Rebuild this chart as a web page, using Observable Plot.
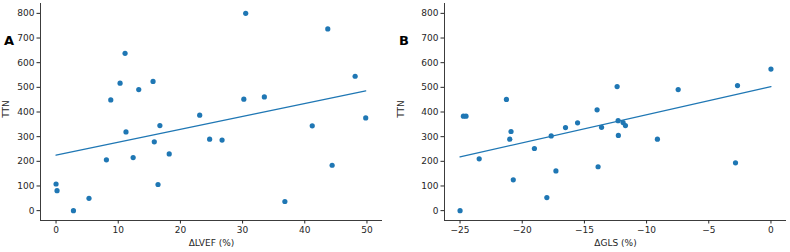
<!DOCTYPE html>
<html>
<head>
<meta charset="utf-8">
<script src="https://cdn.jsdelivr.net/npm/d3@7"></script>
<script src="https://cdn.jsdelivr.net/npm/@observablehq/plot@0.6"></script>
<style>
  html, body { margin: 0; padding: 0; background: #fff; }
  #chart { display: flex; width: 790px; height: 252px; }
  #chart svg { display: block; }
</style>
</head>
<body>
<div id="chart"></div>
<script>
// Panel A: change in LVEF (%) vs TTN
const lvefDelta = [30.5, 43.7, 11.1, 10.3, 8.8, 13.3, 15.6, 48.1, 30.2, 33.5, 23.1, 16.7, 41.2, 49.8,
                   11.25, 15.8, 24.7, 26.7, 8.1, 12.4, 18.2, 0, 0.16, 16.4, 44.4, 5.3, 2.8, 36.8];
const lvefTtn   = [800, 737, 638, 517, 449, 491, 524, 545, 452, 461, 387, 345, 344, 376,
                   319, 279, 290, 286, 206, 215, 230, 108, 81, 106, 184, 50, 0, 37];

// Panel B: change in GLS (%) vs TTN
const glsDelta = [-24.73, -24.52, -21.27, -12.37, -13.98, -15.55, -7.46, -2.69, 0, -12.29, -11.89, -11.70,
                  -20.9, -21.0, -16.52, -13.62, -12.27, -17.67, -23.46, -19.02, -17.29, -13.9, -20.72,
                  -9.13, -18.02, -25, -2.85];
const glsTtn   = [383, 383, 451, 503, 409, 356, 491, 507, 574, 365, 357, 345,
                  321, 290, 337, 338, 305, 303, 210, 252, 161, 178, 125,
                  290, 53, 0, 194];

// Fitted trend lines (endpoints in data units)
const fitLvefX = [0, 49.8];
const fitLvefY = [225, 486];
const fitGlsX = [-25, 0];
const fitGlsY = [218, 503];

// Tick values
const ttnTicks = [0, 100, 200, 300, 400, 500, 600, 700, 800];
const lvefTicks = [0, 10, 20, 30, 40, 50];
const glsTicks = [-25, -20, -15, -10, -5, 0];

const blue = "#1f77b4";
const ink = "#262626";

function panel({letter, xs, ys, fitX, fitY, xDomain, xTicks, xLabel, marginLeft, marginRight, width}) {
  const pts = xs.map((x, i) => ({x, y: ys[i]}));
  const fit = fitX.map((x, i) => ({x, y: fitY[i]}));
  return Plot.plot({
    width, height: 252,
    marginLeft, marginRight, marginTop: 3, marginBottom: 32,
    style: {fontFamily: "DejaVu Sans, sans-serif", fontSize: "9px", color: ink, background: "#fff", overflow: "visible"},
    x: {domain: xDomain},
    y: {domain: [-40, 840]},
    marks: [
      Plot.axisY({ticks: ttnTicks, tickSize: 3.5, tickPadding: 2.5, label: null, tickFormat: d => d}),
      Plot.axisX({ticks: xTicks, tickSize: 3.5, tickPadding: 2.5, label: null,
                  tickFormat: d => (d < 0 ? "\u2212" + Math.abs(d) : String(d))}),
      Plot.ruleX([xDomain[0]], {stroke: ink, strokeWidth: 0.9}),
      Plot.ruleY([-40], {stroke: ink, strokeWidth: 0.9}),
      Plot.text([xLabel], {frameAnchor: "bottom", dy: 23, textAnchor: "middle", lineAnchor: "middle", fill: ink}),
      Plot.text(["TTN"], {frameAnchor: "left", dx: -marginLeft + 6, dy: -3, rotate: -90,
                          textAnchor: "middle", lineAnchor: "middle", fill: ink}),
      Plot.text([letter], {frameAnchor: "top-left", dx: -marginLeft + 8.5, dy: 37, textAnchor: "middle",
                           lineAnchor: "middle", fontWeight: "bold", fontSize: 13, fill: "#000"}),
      Plot.line(fit, {x: "x", y: "y", stroke: blue, strokeWidth: 1.3}),
      Plot.dot(pts, {x: "x", y: "y", r: 2.6, fill: blue, stroke: "none"})
    ]
  });
}

const chart = document.getElementById("chart");
chart.append(panel({
  letter: "A", xs: lvefDelta, ys: lvefTtn, fitX: fitLvefX, fitY: fitLvefY,
  xDomain: [-2.5, 52.5], xTicks: lvefTicks, xLabel: "\u0394LVEF (%)",
  marginLeft: 40, marginRight: 13, width: 395
}));
chart.append(panel({
  letter: "B", xs: glsDelta, ys: glsTtn, fitX: fitGlsX, fitY: fitGlsY,
  xDomain: [-26.25, 1.25], xTicks: glsTicks, xLabel: "\u0394GLS (%)",
  marginLeft: 49, marginRight: 4, width: 395
}));
</script>
</body>
</html>
